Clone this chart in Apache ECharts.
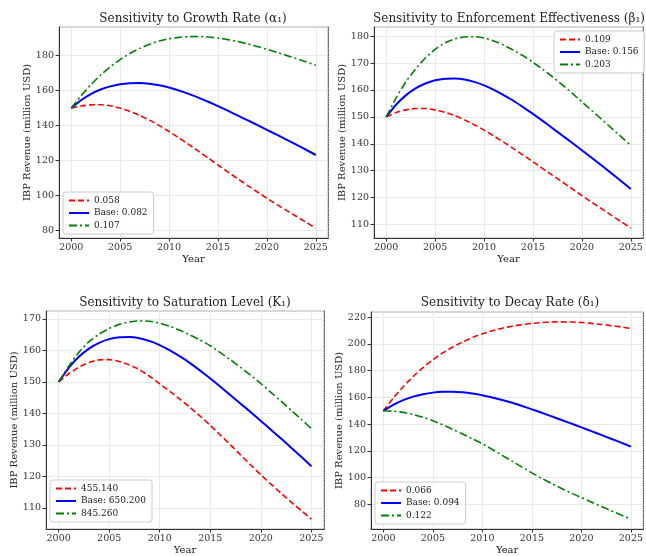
<!DOCTYPE html>
<html>
<head>
<meta charset="utf-8">
<script src="https://cdn.jsdelivr.net/npm/echarts@6/dist/echarts.min.js"></script>
<style>
  html, body { margin: 0; padding: 0; background: #fff; }
  #chart { width: 646px; height: 556px; }
</style>
</head>
<body>
<div id="chart"></div>
<script>
// years on the x axis
const years = [2000, 2001, 2002, 2003, 2004, 2005, 2006, 2007, 2008, 2009, 2010, 2011, 2012,
  2013, 2014, 2015, 2016, 2017, 2018, 2019, 2020, 2021, 2022, 2023, 2024, 2025];
const xTicks = [2000, 2005, 2010, 2015, 2020, 2025];

// base run (same in every panel)
const baseRun = [150, 154.5, 158.0, 160.6, 162.4, 163.6, 164.2, 164.3, 163.9, 163.0, 161.7, 160.0, 158.1,
  156.0, 153.6, 151.1, 148.5, 145.8, 143.1, 140.4, 137.6, 134.8, 132.0, 129.1, 126.2, 123.2];

// growth rate (alpha1)
const growthLow = [150, 151.2, 151.8, 151.9, 151.3, 150.0, 148.1, 145.8, 143.1, 140.0, 136.6, 133.0, 129.3,
  125.4, 121.5, 117.5, 113.6, 109.7, 105.9, 102.2, 98.5, 95.0, 91.6, 88.2, 84.8, 81.4];
const growthHigh = [150, 157.0, 163.3, 168.8, 173.6, 177.7, 181.2, 184.1, 186.5, 188.3, 189.6, 190.4, 190.8,
  190.9, 190.6, 190.0, 189.1, 188.0, 186.7, 185.2, 183.6, 181.9, 180.1, 178.3, 176.4, 174.4];

// enforcement effectiveness (beta1)
const enforceLow = [150, 151.6, 152.6, 153.1, 153.1, 152.6, 151.7, 150.5, 148.9, 147.1, 145.1, 142.9, 140.6,
  138.2, 135.8, 133.3, 130.8, 128.3, 125.8, 123.3, 120.8, 118.3, 115.9, 113.5, 111.1, 108.7];
const enforceHigh = [150, 157.0, 163.0, 167.8, 171.9, 175.1, 177.5, 179.0, 179.7, 179.8, 179.3, 178.2, 176.7,
  174.8, 172.7, 170.3, 167.7, 164.9, 161.9, 158.8, 155.6, 152.4, 149.2, 145.9, 142.7, 139.4];

// saturation level (K1)
const satLow = [150, 152.6, 154.7, 156.2, 157.0, 157.1, 156.5, 155.4, 153.9, 151.8, 149.4, 147.0, 144.5,
  141.9, 139.1, 136.2, 133.1, 130.0, 126.8, 123.6, 120.5, 117.5, 114.6, 111.8, 109.1, 106.4];
const satHigh = [150, 155.0, 159.4, 162.8, 165.2, 167.0, 168.3, 169.1, 169.4, 169.3, 168.7, 167.7, 166.4,
  164.9, 163.3, 161.5, 159.3, 157.0, 154.6, 152.1, 149.5, 146.7, 143.9, 141.0, 138.1, 135.2];

// decay rate (delta1)
const decayLow = [150, 159.5, 168.0, 175.6, 182.3, 188.2, 193.3, 197.7, 201.5, 204.8, 207.6, 209.9, 211.8,
  213.3, 214.5, 215.4, 216.0, 216.4, 216.5, 216.4, 216.0, 215.4, 214.6, 213.7, 212.7, 211.6];
const decayHigh = [150, 149.7, 148.8, 147.3, 145.2, 142.6, 139.5, 136.1, 132.6, 129.0, 125.4, 121.1, 116.7,
  112.3, 107.9, 103.6, 99.5, 95.6, 91.9, 88.4, 85.1, 81.8, 78.5, 75.3, 72.1, 69.0];

// panel titles, legend labels and y ticks
const titles = [
  'Sensitivity to Growth Rate (α₁)',
  'Sensitivity to Enforcement Effectiveness (β₁)',
  'Sensitivity to Saturation Level (K₁)',
  'Sensitivity to Decay Rate (δ₁)'
];
const labels = [
  ['0.058', 'Base: 0.082', '0.107'],
  ['0.109', 'Base: 0.156', '0.203'],
  ['455.140', 'Base: 650.200', '845.260'],
  ['0.066', 'Base: 0.094', '0.122']
];
const runs = [
  [growthLow, baseRun, growthHigh],
  [enforceLow, baseRun, enforceHigh],
  [satLow, baseRun, satHigh],
  [decayLow, baseRun, decayHigh]
];
const yTicks = [
  [80, 100, 120, 140, 160, 180],
  [110, 120, 130, 140, 150, 160, 170, 180],
  [110, 120, 130, 140, 150, 160, 170],
  [80, 100, 120, 140, 160, 180, 200, 220]
];
const yRange = [[75.8, 196.3], [105.0, 183.4], [103.25, 172.55], [61.6, 223.9]];

// layout per panel
const panels = [
  { grid: { left: 59, top: 27, width: 269, height: 211 }, titleX: 193, titleY: 13, legend: { left: 63, top: 192 } },
  { grid: { left: 374, top: 27, width: 269, height: 211 }, titleX: 509, titleY: 13, legend: { left: 554, top: 31 } },
  { grid: { left: 46, top: 311, width: 278, height: 219 }, titleX: 185, titleY: 297, legend: { left: 50, top: 480 } },
  { grid: { left: 371, top: 312, width: 278, height: 218 }, titleX: 510, titleY: 297, legend: { left: 375, top: 482 } }
];

const FONT = 'DejaVu Serif';
const lineStyles = [
  { color: '#ff0000', width: 1.6, type: [6, 3] },
  { color: '#0000ff', width: 2, type: 'solid' },
  { color: '#008000', width: 1.6, type: [8, 3, 2, 3] }
];

const chart = echarts.init(document.getElementById('chart'));

const option = {
  backgroundColor: '#fff',
  animation: false,
  title: [],
  legend: [],
  grid: [],
  xAxis: [],
  yAxis: [],
  series: []
};

panels.forEach((p, i) => {
  option.grid.push(Object.assign({ show: true, borderColor: '#b0b0b0', borderWidth: 1, backgroundColor: 'transparent' }, p.grid));

  option.title.push({
    text: titles[i],
    left: p.titleX,
    top: p.titleY,
    textAlign: 'center',
    padding: 0,
    textStyle: { fontFamily: FONT, fontSize: 12, fontWeight: 'normal', color: '#222' }
  });

  option.legend.push({
    data: labels[i],
    orient: 'vertical',
    left: p.legend.left,
    top: p.legend.top,
    itemWidth: 20,
    itemHeight: 9,
    itemGap: 3.5,
    padding: [4, 6, 4, 5],
    backgroundColor: 'rgba(255,255,255,0.85)',
    borderColor: '#cccccc',
    borderWidth: 1,
    borderRadius: 3,
    selectedMode: false,
    itemStyle: { opacity: 0 },
    textStyle: { fontFamily: FONT, fontSize: 9, color: '#222' }
  });

  option.xAxis.push({
    type: 'value',
    gridIndex: i,
    min: 1998.75,
    max: 2026.25,
    name: 'Year',
    nameLocation: 'middle',
    nameGap: 16,
    nameTextStyle: { fontFamily: FONT, fontSize: 10, color: '#222' },
    axisLine: { show: true, lineStyle: { color: '#333', width: 1 } },
    axisTick: { show: true, length: 3.5, lineStyle: { color: '#333' }, customValues: xTicks },
    axisLabel: {
      customValues: xTicks, margin: 5, fontFamily: FONT, fontSize: 9.5, color: '#333',
      formatter: v => String(v)
    },
    splitLine: { show: true, lineStyle: { color: '#e8e8e8', width: 1 } }
  });

  option.yAxis.push({
    type: 'value',
    gridIndex: i,
    min: yRange[i][0],
    max: yRange[i][1],
    name: 'IBP Revenue (million USD)',
    nameLocation: 'middle',
    nameGap: 26,
    nameTextStyle: { fontFamily: FONT, fontSize: 10, color: '#222' },
    axisLine: { show: true, lineStyle: { color: '#333', width: 1 } },
    axisTick: { show: true, length: 3.5, lineStyle: { color: '#333' }, customValues: yTicks[i] },
    axisLabel: { customValues: yTicks[i], margin: 5, fontFamily: FONT, fontSize: 9.5, color: '#333' },
    splitLine: { show: true, lineStyle: { color: '#e8e8e8', width: 1 } }
  });

  runs[i].forEach((vals, k) => {
    option.series.push({
      name: labels[i][k],
      type: 'line',
      xAxisIndex: i,
      yAxisIndex: i,
      symbol: 'none',
      smooth: 0.2,
      data: years.map((y, j) => [y, vals[j]]),
      lineStyle: lineStyles[k],
      itemStyle: { color: lineStyles[k].color },
      z: 2 + k
    });
  });
});

// dotted right-hand edge of every panel
panels.forEach((p, i) => {
  option.yAxis.push({
    type: 'value',
    gridIndex: i,
    position: 'right',
    min: yRange[i][0],
    max: yRange[i][1],
    axisLine: { show: true, lineStyle: { color: '#555', width: 1, type: [1, 1.5] } },
    axisTick: { show: false },
    axisLabel: { show: false },
    splitLine: { show: false }
  });
});

chart.setOption(option);
</script>
</body>
</html>
